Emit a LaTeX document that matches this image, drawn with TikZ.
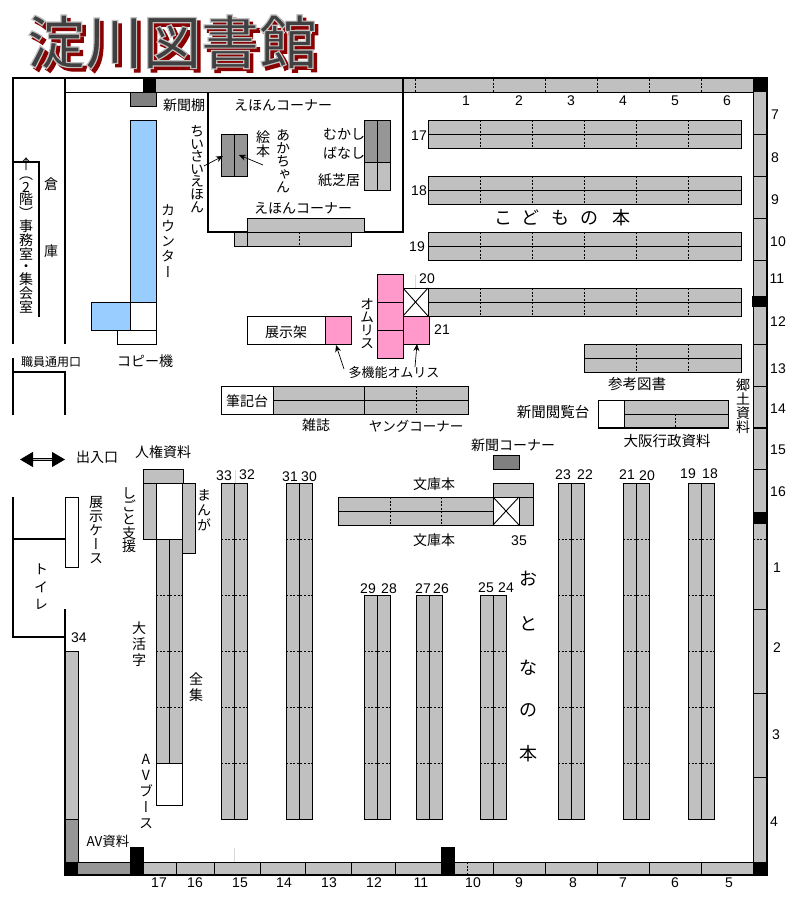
\documentclass[tikz,border=0pt]{standalone}
\usepackage{fontspec}
\usepackage{xcolor}
\usetikzlibrary{arrows.meta}
\setmainfont{Noto Sans CJK JP}
\newfontfamily\vertfont[RawFeature=+vert]{Noto Sans CJK JP}
\newfontfamily\numfont{Liberation Sans}
\newfontfamily\titlefont{Noto Sans CJK JP Medium}
\definecolor{shelfgray}{HTML}{C0C0C0}
\definecolor{darkgray}{HTML}{969696}
\definecolor{newsgray}{HTML}{808080}
\definecolor{counterblue}{HTML}{99CCFF}
\definecolor{omulispink}{HTML}{FF99CC}
\newcommand\titletext[2]{\special{pdf:code q 2 Tr 1.2 w #1 RG #2 rg}淀川図書館\special{pdf:code Q}}
\AtBeginDocument{\lineskiplimit=-20pt\relax}
\tikzset{
  shelf/.style={draw=black, fill=shelfgray, line width=0.9pt},
  darkshelf/.style={draw=black, fill=darkgray, line width=0.9pt},
  whitebox/.style={draw=black, fill=white, line width=0.9pt},
  bluebox/.style={draw=black, fill=counterblue, line width=0.9pt},
  pinkbox/.style={draw=black, fill=omulispink, line width=0.9pt},
  thinline/.style={line width=0.9pt},
  wall/.style={line width=2.4pt},
  dotline/.style={line width=0.9pt, dash pattern=on 2pt off 1.6pt},
  pillar/.style={draw=none, fill=black},
  lbl/.style={inner sep=0pt, font=\fontsize{14}{14}\selectfont},
  num/.style={inner sep=0pt, font=\numfont\fontsize{14}{14}\selectfont},
  vlbl/.style={inner sep=0pt, align=center, text width=16pt,
    font=\vertfont\fontsize{14}{#1}\selectfont},
  vlbl/.default=14,
  bigchar/.style={inner sep=0pt, font=\fontsize{18}{18}\selectfont},
  titlechar/.style={inner sep=0pt, font=\titlefont\fontsize{58}{58}\selectfont},
  pointer/.style={-{Stealth[length=7pt,width=6pt]}, line width=0.7pt},
}

\begin{document}
\begin{tikzpicture}[x=1pt, y=-1pt]
  \useasboundingbox (0,0) rectangle (807,899);

  % title
  \node[titlechar] (titleshadow) at (175.5,45.5) {\titletext{0.545 0 0}{0.545 0 0}};
  \node[titlechar] (title) at (172,42) {\titletext{0.75 0.75 0.75}{0.25 0.25 0.25}};

  % bands along the walls
  \fill[shelfgray] (156,78) rectangle (753,92);
  \fill[shelfgray] (753,92) rectangle (766,862);
  \fill[shelfgray] (144,862) rectangle (753,875);
  \fill[darkgray] (78,862) rectangle (130,875);
  \draw[thinline] (65,92) -- (753,92);
  \draw[thinline] (753,92) -- (753,862);
  \draw[thinline] (78,862) -- (753,862);
  \foreach \x in {415,493,545,597,649,701}
    \draw[dotline] (\x,79) -- (\x,92);
  \draw[thinline] (403,79) -- (403,92);
  \foreach \y in {134,176,218,260,344,386,469,609,693,777}
    \draw[thinline] (753,\y) -- (766,\y);
  \draw[dotline] (753,539) -- (766,539);
  \foreach \x in {176,214,260,305,351,395.5,493,545,597,649,701}
    \draw[thinline] (\x,862) -- (\x,875);
  \draw[dotline] (467,862) -- (467,875);
  \draw[line width=0.5pt, black!15] (234,848) -- (234,862);
  \draw[line width=0.5pt, black!15] (415,275) -- (415,288);
  \draw[line width=0.5pt, black!15] (235,470) -- (235,483);

  % pillars
  \fill[pillar] (143,78) rectangle (156,92);
  \fill[pillar] (753,78) rectangle (767,92);
  \fill[pillar] (752,296) rectangle (767,307);
  \fill[pillar] (753,512) rectangle (767,524);
  \fill[pillar] (65,862) rectangle (78,875);
  \fill[pillar] (130,847) rectangle (144,875);
  \fill[pillar] (441,847) rectangle (455,875);
  \fill[pillar] (753,862) rectangle (767,875);

  % walls
  \draw[wall] (13,344) -- (13,78) -- (767,78) -- (767,875) -- (65,875) -- (65,609);
  \draw[wall] (65,78) -- (65,344);
  \draw[wall] (13,162) -- (39,162) -- (39,317);
  \draw[wall] (13,415) -- (13,358);
  \draw[wall] (13,372) -- (65,372) -- (65,415);
  \draw[wall] (13,497) -- (13,637) -- (65,637);
  \draw[wall] (13,539) -- (65,539);
  \draw[wall] (753,428) -- (767,428);
  \draw[line width=1.1pt] (403,78) -- (403,232) -- (208,232) -- (208,92);

  % counter
  \draw[darkshelf, fill=newsgray] (130,92) rectangle (156,106);
  \draw[bluebox] (130,120) rectangle (156,302);
  \draw[bluebox] (91,302) rectangle (130,330);
  \draw[whitebox] (130,302) rectangle (156,330);
  \draw[whitebox] (117,330) rectangle (156,344);

  % picture book corner
  \draw[darkshelf] (221,134) rectangle (247,176);
  \draw[thinline] (234,134) -- (234,176);
  \draw[darkshelf] (364,120) rectangle (390,162);
  \draw[shelf] (364,162) rectangle (390,190);
  \draw[thinline] (377,120) -- (377,190);
  \draw[shelf] (247,218) rectangle (364,232);
  \draw[shelf] (234,232) rectangle (351,246);
  \draw[thinline] (247,232) -- (247,246);
  \draw[dotline] (299,232) -- (299,246);

  % children's rows
  \foreach \y in {120,176,232,288} {
    \draw[shelf] (428,\y) rectangle (741,\y+28);
    \draw[thinline] (428,\y+14) -- (741,\y+14);
    \foreach \x in {480,532,584,636,688}
      \draw[dotline] (\x,\y) -- (\x,\y+28);
  }
  \draw[whitebox] (403,288) rectangle (428,316);
  \draw[thinline] (403,288) -- (428,316) (403,316) -- (428,288);

  % omulis
  \foreach \y in {274,302,330}
    \draw[pinkbox] (377,\y) rectangle (403,\y+28);
  \draw[pinkbox] (403,316) rectangle (429,344);
  \draw[whitebox] (247,316) rectangle (325,344);
  \draw[pinkbox] (325,316) rectangle (351,344);

  % desks and short rows
  \draw[whitebox] (221,386) rectangle (273,414);
  \draw[shelf] (273,386) rectangle (468,414);
  \draw[thinline] (273,400) -- (468,400);
  \draw[thinline] (364,386) -- (364,414);
  \draw[dotline] (416,386) -- (416,414);
  \draw[shelf] (584,344) rectangle (741,372);
  \draw[thinline] (584,358) -- (741,358);
  \foreach \x in {636,688}
    \draw[dotline] (\x,344) -- (\x,372);
  \draw[whitebox] (598,400) rectangle (624,428);
  \draw[shelf] (624,400) rectangle (728,428);
  \draw[thinline] (624,414) -- (728,414);
  \draw[dotline] (675,414) -- (675,428);
  \draw[line width=1.4pt] (598,428) -- (728,428);
  \draw[darkshelf, fill=newsgray] (493,455) rectangle (519,469);

  % bunko
  \draw[shelf] (338,497) rectangle (493,525);
  \draw[thinline] (338,511) -- (493,511);
  \foreach \x in {390,441}
    \draw[dotline] (\x,497) -- (\x,525);
  \draw[shelf] (493,483) rectangle (533,497);
  \draw[shelf] (519,497) rectangle (533,525);
  \draw[whitebox] (493,497) rectangle (519,525);
  \draw[thinline] (493,497) -- (519,525) (493,525) -- (519,497);

  % tall rows
  \foreach \x/\ystart in {221/483,286/483,364/595,416/595,480/595,558/483,623/483,688/483} {
    \draw[shelf] (\x,\ystart) rectangle (\x+26,819);
    \draw[thinline] (\x+13,\ystart) -- (\x+13,819);
    \foreach \y in {539,595,651,707,763} {
      \ifnum\y>\ystart \draw[dotline] (\x,\y) -- (\x+26,\y); \fi
    }
  }
  \draw[line width=1.4pt] (390.5,595) -- (390.5,819);

  % left block
  \draw[shelf] (143,469) rectangle (183,483);
  \draw[shelf] (143,483) rectangle (156,539);
  \draw[whitebox] (156,483) rectangle (182,539);
  \draw[shelf] (182,483) rectangle (195,553);
  \draw[shelf] (156,539) rectangle (182,763);
  \draw[thinline] (169,539) -- (169,763);
  \foreach \y in {595,651,707}
    \draw[dotline] (156,\y) -- (182,\y);
  \draw[whitebox] (156,763) rectangle (182,805);
  \draw[whitebox] (65,497) rectangle (78,567);
  \draw[shelf] (65,651) rectangle (78,819);
  \draw[darkshelf] (65,819) rectangle (78,862);
  \draw[wall] (65,609) -- (65,875);

  % pointers
  \coordinate (tipA) at (223,156);
  \coordinate (tipB) at (239,155);
  \coordinate (tipC) at (336,345);
  \coordinate (tipD) at (417,344);
  \coordinate (tailA) at (204,166);
  \coordinate (tailB) at (263,165);
  \coordinate (tailC) at (344,369);
  \coordinate (tailD) at (415,367);
  \draw[pointer] (tailA) -- (tipA);
  \draw[pointer] (tailB) -- (tipB);
  \draw[pointer] (tailC) -- (tipC);
  \draw[pointer] (tailD) -- (tipD);

  % entrance arrow
  \coordinate (doorL) at (20,459.5);
  \coordinate (doorR) at (65,459.5);
  \draw[{Triangle[length=13pt,width=15pt]}-{Triangle[length=13pt,width=15pt]}, double=shelfgray, double distance=1.4pt, line width=1pt] (doorL) -- (doorR);

  % labels
  \node[lbl] (newsshelf) at (184,105) {新聞棚};
  \node[lbl] (ehon1) at (283,105) {えほんコーナー};
  \node[lbl] (ehon2) at (303,208) {えほんコーナー};
  \node[lbl] (mukashi) at (344,134) {むかし};
  \node[lbl] (banashi) at (344,153) {ばなし};
  \node[lbl] (kamishibai) at (339,180) {紙芝居};
  \node[lbl] (copier) at (145,361) {コピー機};
  \node[lbl] (display) at (286,332) {展示架};
  \node[lbl, font=\fontsize{13}{13}\selectfont] (multi) at (394,373) {多機能オムリス};
  \node[lbl] (hikki) at (247,401) {筆記台};
  \node[lbl] (zasshi) at (316,425) {雑誌};
  \node[lbl, font=\fontsize{13.5}{13.5}\selectfont] (young) at (416,426) {ヤングコーナー};
  \node[lbl, font=\fontsize{14.5}{14.5}\selectfont] (sanko) at (637,384) {参考図書};
  \node[lbl, font=\fontsize{14.5}{14.5}\selectfont] (etsuran) at (553,412) {新聞閲覧台};
  \node[lbl, font=\fontsize{14.5}{14.5}\selectfont] (osaka) at (667,441) {大阪行政資料};
  \node[lbl] (newscorner) at (513,445) {新聞コーナー};
  \node[lbl] (bunko1) at (434,484) {文庫本};
  \node[lbl] (bunko2) at (434,540) {文庫本};
  \node[lbl] (jinken) at (163,452) {人権資料};
  \node[lbl] (deiri) at (97,457) {出入口};
  \node[lbl, font=\fontsize{12}{12}\selectfont] (staffdoor) at (51,362) {職員通用口};
  \node[lbl, font=\fontsize{13.5}{13.5}\selectfont] (avshiryo) at (108,841) {AV資料};
  \node[lbl] (souko1) at (51,184) {倉};
  \node[lbl] (souko2) at (51,251) {庫};

  % vertical labels
  \node[vlbl=12.6] (chiisai) at (197,169) {ち\\い\\さ\\い\\え\\ほ\\ん};
  \node[vlbl=13.5] (ehonv) at (263,144) {絵\\本};
  \node[vlbl=13] (akachan) at (283,161) {あ\\か\\ち\\ゃ\\ん};
  \node[vlbl=15.4] (counter) at (168,241) {カ\\ウ\\ン\\タ\\ー};
  \node[vlbl=12.7] (office) at (26,240) {\smash{\raisebox{-3pt}{↑}}\\（\\2\\階\\）\\事\\務\\室\\・\\集\\会\\室};
  \node[vlbl=13] (omulis) at (367,324) {オ\\ム\\リ\\ス};
  \node[vlbl=14] (kyodo) at (743,406) {郷\\土\\資\\料};
  \node[vlbl=14] (showcase) at (96,530) {展\\示\\ケ\\ー\\ス};
  \node[vlbl=17.5] (toilet) at (41,587) {ト\\イ\\レ};
  \node[vlbl=13.3] (shigoto) at (129,520) {し\\ご\\と\\支\\援};
  \node[vlbl=15] (manga) at (204,510) {ま\\ん\\が};
  \node[vlbl=16] (daikatsuji) at (139,644) {大\\活\\字};
  \node[vlbl=16] (zenshu) at (196,687) {全\\集};
  \node[vlbl=16] (avbooth) at (146,791) {A\\V\\ブ\\ー\\ス};

  % big labels
  \foreach \x/\ch [count=\i] in {503/こ,530/ど,560/も,589/の,621/本}
    \node[bigchar] (kodomo\i) at (\x,218) {\ch};
  \foreach \y/\ch [count=\i] in {579/お,624/と,668/な,710/の,754/本}
    \node[bigchar] (otona\i) at (528,\y) {\ch};

  % numbers
  \foreach \x/\n in {466/1,519/2,571/3,623/4,675/5,727/6}
    \node[num] (top\n) at (\x,101) {\n};
  \foreach \x/\y/\n in {775/115/7,775/158/8,775/200/9,778/242/10,777/279/11,778/322/12,778/369/13,778/409/14,778/450/15,778/492/16,777/568/1,777/648/2,776/735/3,774/822/4}
    \node[num] (right\n) at (\x,\y) {\n};
  \foreach \x/\n in {159/17,195/16,240/15,284/14,329/13,374/12,421/11,473/10,519/9,573/8,623/7,675/6,729/5}
    \node[num] (bottom\n) at (\x,883) {\n};
  \foreach \x/\y/\n in {419/136/17,419/191/18,417/247/19,427/279/20,442/330/21,519/541/35,79/638/34,
    224/476/33,247/475/32,290/477/31,309/477/30,368/589/29,389/589/28,423/589/27,441/589/26,
    486/588/25,506/588/24,563/475/23,585/475/22,627/475/21,647/476/20,688/474/19,710/474/18}
    \node[num] (stack\n) at (\x,\y) {\n};
\end{tikzpicture}
\end{document}
